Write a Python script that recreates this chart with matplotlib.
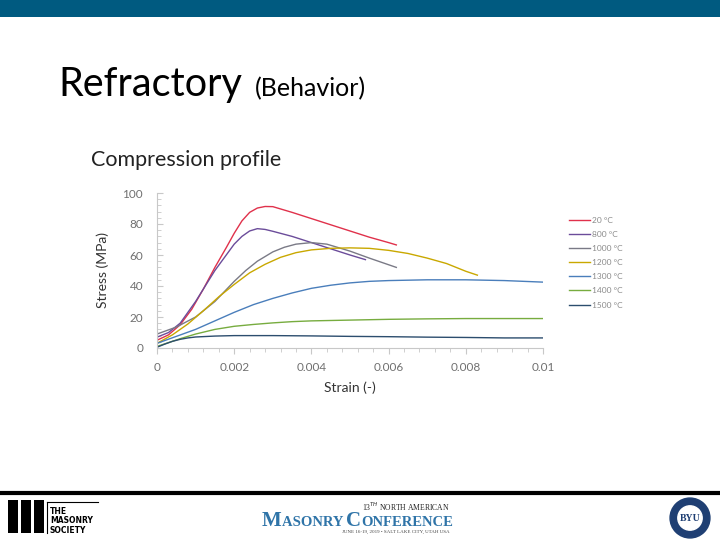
import matplotlib
matplotlib.use("Agg")
import matplotlib.pyplot as plt
from matplotlib.patches import Rectangle, Circle
from matplotlib.lines import Line2D
from matplotlib.ticker import MultipleLocator

plt.rcParams['font.family'] = ['Lato', 'DejaVu Sans']

# ---- data ----
labels = ["20 °C", "800 °C", "1000 °C", "1200 °C", "1300 °C", "1400 °C", "1500 °C"]
colors = ["#E0314B", "#6B4C9A", "#7A7A86", "#C9A800", "#4A7EBB", "#77AC3F", "#2C4D6E"]

strain_20 = [0, 0.0003, 0.0006, 0.0009, 0.0012, 0.0015, 0.0018, 0.002, 0.0022, 0.0024, 0.0026,
             0.0028, 0.003, 0.0035, 0.004, 0.0045, 0.005, 0.0055, 0.006, 0.0062]
stress_20 = [5, 8.5, 15, 25, 38, 52, 65, 74, 82, 87.5, 90.3,
             91.3, 91.2, 87.5, 83.5, 79.5, 75.5, 71.5, 68, 66.5]

strain_800 = [0, 0.0003, 0.0006, 0.001, 0.0015, 0.002, 0.0022, 0.0024, 0.0026, 0.0028, 0.003,
              0.0035, 0.004, 0.0045, 0.005, 0.0054]
stress_800 = [7, 10, 16, 30, 50, 67, 72, 75.5, 77, 76.5, 75.3,
              72, 68, 64, 60, 57]

strain_1000 = [0, 0.0005, 0.001, 0.0015, 0.002, 0.0023, 0.0026, 0.003, 0.0033, 0.0036, 0.004,
               0.0044, 0.005, 0.0055, 0.0062]
stress_1000 = [9, 13.5, 20, 30, 43, 50, 56, 62, 65, 67, 68,
               67, 62.5, 58, 52]

strain_1200 = [0, 0.0004, 0.0008, 0.0012, 0.0016, 0.002, 0.0024, 0.0028, 0.0032, 0.0036, 0.004,
               0.0045, 0.005, 0.0055, 0.006, 0.0065, 0.007, 0.0075, 0.008, 0.0083]
stress_1200 = [3, 8.5, 15.5, 24, 33, 41, 48.5, 54, 58.5, 61.5, 63.3,
               64.3, 64.6, 64.3, 63, 61, 58, 54.5, 49.5, 47]

strain_1300 = [0, 0.0005, 0.001, 0.0015, 0.002, 0.0025, 0.003, 0.0035, 0.004, 0.0045, 0.005,
               0.0055, 0.006, 0.007, 0.008, 0.009, 0.01]
stress_1300 = [3, 7.5, 12, 17.5, 23, 28, 32, 35.5, 38.5, 40.5, 42,
               43, 43.5, 44, 44, 43.5, 42.5]

strain_1400 = [0, 0.0003, 0.0006, 0.001, 0.0015, 0.002, 0.0025, 0.003, 0.0035, 0.004, 0.005,
               0.006, 0.007, 0.008, 0.009, 0.01]
stress_1400 = [1, 3.5, 6, 9, 12, 14, 15.2, 16.2, 17, 17.5, 18,
               18.5, 18.8, 19, 19, 19]

strain_1500 = [0, 0.0002, 0.0004, 0.0006, 0.0008, 0.001, 0.0015, 0.002, 0.003, 0.004, 0.005,
               0.006, 0.007, 0.008, 0.009, 0.01]
stress_1500 = [0.5, 2.5, 4.3, 5.6, 6.5, 7.1, 7.7, 8, 8, 7.8, 7.5,
               7.3, 7, 6.8, 6.5, 6.5]

series = [(strain_20, stress_20), (strain_800, stress_800), (strain_1000, stress_1000),
          (strain_1200, stress_1200), (strain_1300, stress_1300), (strain_1400, stress_1400),
          (strain_1500, stress_1500)]

x_ticks = [0, 0.002, 0.004, 0.006, 0.008, 0.01]
x_ticklabels = ["0", "0.002", "0.004", "0.006", "0.008", "0.01"]
y_ticks = [0, 20, 40, 60, 80, 100]

W, H = 720, 540
fig = plt.figure(figsize=(7.2, 5.4), dpi=100)
fig.patch.set_facecolor("white")

def fx(px):
    return px / W

def fy(py):
    return 1 - py / H

# top bar
fig.add_artist(Rectangle((0, fy(17)), 1, 17 / H, transform=fig.transFigure,
                         color="#005A80", lw=0))

# slide title
fig.text(fx(58), fy(96), "Refractory", fontsize=28.5, color="black", va="baseline")
fig.text(fx(255), fy(96), "(Behavior)", fontsize=18, color="black", va="baseline")

# chart title
fig.text(fx(91), fy(166), "Compression profile", fontsize=15.5, color="#222222", va="baseline")

# axes
ax = fig.add_axes([fx(157), fy(348), (543 - 157) / W, (348 - 193) / H])
for (xs, ys), c, lab in zip(series, colors, labels):
    ax.plot(xs, ys, color=c, lw=1.0, label=lab, solid_joinstyle="round")

ax.set_xlim(0, 0.01)
ax.set_ylim(0, 100)
ax.set_xticks(x_ticks)
ax.set_xticklabels(x_ticklabels)
ax.set_yticks(y_ticks)
ax.xaxis.set_minor_locator(MultipleLocator(0.0004))
ax.yaxis.set_minor_locator(MultipleLocator(4))
for s in ["top", "right"]:
    ax.spines[s].set_visible(False)
for s in ["left", "bottom"]:
    ax.spines[s].set_color("#C8C8C8")
    ax.spines[s].set_linewidth(0.8)
ax.tick_params(axis="x", which="both", direction="out", color="#C8C8C8",
               labelcolor="#707070", labelsize=8.5, pad=6)
ax.tick_params(axis="x", which="major", length=4)
ax.tick_params(axis="x", which="minor", length=3)
ax.tick_params(axis="y", which="both", direction="in", color="#C8C8C8",
               labelcolor="#707070", labelsize=8.5, pad=10)
ax.tick_params(axis="y", which="major", length=4)
ax.tick_params(axis="y", which="minor", length=3)
ax.set_xlabel("Strain (-)", fontsize=10, color="#333333", labelpad=6)
ax.set_ylabel("Stress (MPa)", fontsize=10, color="#333333", labelpad=10)

leg = ax.legend(loc="upper left", bbox_to_anchor=(fx(569), fy(217)),
                bbox_transform=fig.transFigure, frameon=False, fontsize=6,
                handlelength=2.5, handletextpad=0.2, labelspacing=0.85,
                borderpad=0, borderaxespad=0)
for t in leg.get_texts():
    t.set_color("#8A8A8A")

# footer line
fig.add_artist(Line2D([0, 1], [fy(493), fy(493)], transform=fig.transFigure,
                      color="black", lw=3))

# left logo: The Masonry Society
for x0 in (8, 21, 34):
    fig.add_artist(Rectangle((fx(x0), fy(533)), 10 / W, 33 / H,
                             transform=fig.transFigure, color="black", lw=0))
fig.add_artist(Line2D([fx(47), fx(47)], [fy(533), fy(502)], transform=fig.transFigure,
                      color="black", lw=0.8))
fig.add_artist(Line2D([fx(47), fx(98)], [fy(502), fy(502)], transform=fig.transFigure,
                      color="black", lw=0.8))
fig.text(fx(50), fy(507), "THE\nMASONRY\nSOCIETY", fontsize=5.5, fontweight="heavy",
         color="black", va="top", ha="left", linespacing=1.05, family="DejaVu Sans")

# center logo: Masonry Conference (small caps built from pieces)
fig.text(fx(450), fy(511), "13$^{TH}$ NORTH AMERICAN", fontsize=5.5, color="#222222",
         ha="right", va="baseline", family="Liberation Serif")
renderer = fig.canvas.get_renderer()
pieces = [("M", 15), ("ASONRY ", 10.5), ("C", 15), ("ONFERENCE", 10.5)]
xcur = 262
for txt, fs in pieces:
    t = fig.text(fx(xcur), fy(526), txt, fontsize=fs, color="#2F74A8", ha="left",
                 va="baseline", family="Liberation Serif", fontweight="bold")
    bb = t.get_window_extent(renderer=renderer)
    xcur += bb.width
fig.text(fx(450), fy(533), "JUNE 16-19, 2019 • SALT LAKE CITY, UTAH USA", fontsize=3.6,
         color="#444444", ha="right", va="baseline", family="Liberation Serif")

# right logo: BYU seal
ax2 = fig.add_axes([fx(669), fy(539), 42 / W, 42 / H])
ax2.set_xlim(-1, 1)
ax2.set_ylim(-1, 1)
ax2.set_aspect("equal")
ax2.axis("off")
ax2.add_patch(Circle((0, 0), 0.95, color="#1F3F73"))
ax2.add_patch(Circle((0, 0), 0.58, color="white"))
ax2.text(0, -0.02, "BYU", fontsize=7, fontweight="bold", color="#1F3F73",
         ha="center", va="center", family="Liberation Serif")

fig.savefig("out.png", dpi=100, facecolor="white")
